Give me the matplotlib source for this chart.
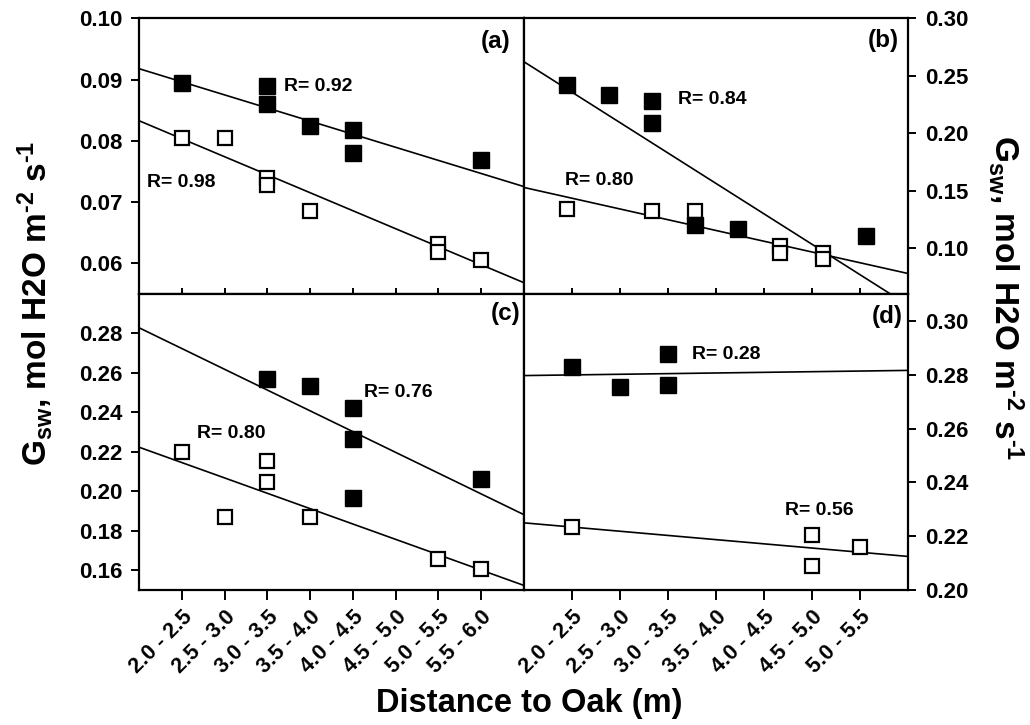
import matplotlib
matplotlib.use('Agg')
import matplotlib.pyplot as plt
import numpy as np

plt.rcParams['font.family'] = ['Liberation Sans', 'DejaVu Sans']
plt.rcParams['font.weight'] = 'bold'
plt.rcParams['mathtext.fontset'] = 'custom'
plt.rcParams['mathtext.rm'] = 'Liberation Sans:bold'
plt.rcParams['mathtext.it'] = 'Liberation Sans:bold'
plt.rcParams['mathtext.bf'] = 'Liberation Sans:bold'

# distance classes (left column has 8, right column 7)
left_labels = ['2.0 - 2.5', '2.5 - 3.0', '3.0 - 3.5', '3.5 - 4.0',
               '4.0 - 4.5', '4.5 - 5.0', '5.0 - 5.5', '5.5 - 6.0']
right_labels = left_labels[:7]

# panel (a)
a_closed_x = [1, 3, 3, 4, 5, 5, 8]
a_closed_y = [0.0894, 0.0889, 0.0861, 0.0825, 0.0818, 0.0780, 0.0769]
a_open_x = [1, 2, 3, 3, 4, 7, 7, 8]
a_open_y = [0.0805, 0.0805, 0.0740, 0.0728, 0.0685, 0.0632, 0.0618, 0.0605]
a_fit_closed = [0.0918, -0.00214]   # intercept, slope
a_fit_open = [0.0833, -0.00294]

# panel (b)
b_closed_x = [0.89, 1.78, 2.67, 2.67, 3.56, 4.45, 7.12]
b_closed_y = [0.2421, 0.2335, 0.2283, 0.2090, 0.1202, 0.1167, 0.1109]
b_open_x = [0.89, 2.67, 3.56, 5.34, 5.34, 6.23, 6.23]
b_open_y = [0.1340, 0.1320, 0.1320, 0.1017, 0.0959, 0.0957, 0.0907]
b_fit_closed = [0.2623, -0.0265]
b_fit_open = [0.1528, -0.00937]

# panel (c)
c_closed_x = [3, 4, 5, 5, 5, 8]
c_closed_y = [0.2571, 0.2532, 0.2424, 0.2266, 0.1965, 0.2063]
c_open_x = [1, 2, 3, 3, 4, 7, 8]
c_open_y = [0.2199, 0.1871, 0.2153, 0.2049, 0.1868, 0.1659, 0.1609]
c_fit_closed = [0.2829, -0.01052]
c_fit_open = [0.2224, -0.00778]

# panel (d)
d_closed_x = [1, 2, 3, 3]
d_closed_y = [0.2828, 0.2753, 0.2876, 0.2761]
d_open_x = [1, 6, 6, 7]
d_open_y = [0.2234, 0.2203, 0.2088, 0.2159]
d_fit_closed = [0.2797, 0.00024]
d_fit_open = [0.2250, -0.00156]

# R values written next to the fits
r_texts = {
    'a': [('R= 0.92', 3.39, 0.0889), ('R= 0.98', 0.18, 0.0732)],
    'b': [('R= 0.84', 3.21, 0.2292), ('R= 0.80', 0.86, 0.1585)],
    'c': [('R= 0.76', 5.25, 0.2499), ('R= 0.80', 1.35, 0.2292)],
    'd': [('R= 0.28', 3.50, 0.2876), ('R= 0.56', 5.44, 0.2296)],
}


def draw_panel(ax, open_x, open_y, closed_x, closed_y, fit_open, fit_closed, xlim):
    xs = np.array(xlim)
    for b0, b1 in (fit_open, fit_closed):
        ax.plot(xs, b0 + b1 * xs, color='black', lw=1.2, zorder=2)
    ax.plot(open_x, open_y, 's', ms=10.5, mfc='white', mec='black', mew=1.6,
            ls='none', zorder=3)
    ax.plot(closed_x, closed_y, 's', ms=11, mfc='black', mec='black',
            ls='none', zorder=4)
    ax.set_xlim(xlim)
    for sp in ax.spines.values():
        sp.set_linewidth(1.6)


fig = plt.figure(figsize=(10.3, 7.25), dpi=100)
x0, xm, x1 = 0.135, 0.5087, 0.8816
y0, ym, y1 = 0.186, 0.5945, 0.9745

ax_a = fig.add_axes([x0, ym, xm - x0, y1 - ym])
ax_b = fig.add_axes([xm, ym, x1 - xm, y1 - ym])
ax_c = fig.add_axes([x0, y0, xm - x0, ym - y0])
ax_d = fig.add_axes([xm, y0, x1 - xm, ym - y0])

draw_panel(ax_a, a_open_x, a_open_y, a_closed_x, a_closed_y, a_fit_open, a_fit_closed, (0, 9))
draw_panel(ax_b, b_open_x, b_open_y, b_closed_x, b_closed_y, b_fit_open, b_fit_closed, (0, 8))
draw_panel(ax_c, c_open_x, c_open_y, c_closed_x, c_closed_y, c_fit_open, c_fit_closed, (0, 9))
draw_panel(ax_d, d_open_x, d_open_y, d_closed_x, d_closed_y, d_fit_open, d_fit_closed, (0, 8))

ax_a.set_ylim(0.055, 0.10)
ax_a.set_yticks([0.06, 0.07, 0.08, 0.09, 0.10])
ax_b.set_ylim(0.06, 0.30)
ax_b.set_yticks([0.10, 0.15, 0.20, 0.25, 0.30])
ax_c.set_ylim(0.15, 0.30)
ax_c.set_yticks([0.16, 0.18, 0.20, 0.22, 0.24, 0.26, 0.28])
ax_d.set_ylim(0.20, 0.31)
ax_d.set_yticks([0.20, 0.22, 0.24, 0.26, 0.28, 0.30])

for ax in (ax_b, ax_d):
    ax.yaxis.tick_right()
for ax in (ax_a, ax_b, ax_c, ax_d):
    ax.yaxis.set_major_formatter(matplotlib.ticker.FormatStrFormatter('%.2f'))
    ax.tick_params(axis='y', direction='out', length=6, width=1.4,
                   labelsize=16, pad=6)

ax_a.set_xticks(range(1, 9))
ax_b.set_xticks(range(1, 8))
for ax in (ax_a, ax_b):
    ax.set_xticklabels([])
    ax.tick_params(axis='x', direction='inout', length=9, width=1.4)

ax_c.set_xticks(range(1, 9))
ax_c.set_xticklabels(left_labels)
ax_d.set_xticks(range(1, 8))
ax_d.set_xticklabels(right_labels)
for ax in (ax_c, ax_d):
    ax.tick_params(axis='x', direction='out', length=7, width=1.4,
                   labelsize=15.5, pad=5)
    for lab in ax.get_xticklabels():
        lab.set_rotation(45)
        lab.set_ha('right')
        lab.set_rotation_mode('anchor')

# panel letters and R annotations
for ax, letter, px, py in ((ax_a, 'a', 0.965, 0.915), (ax_b, 'b', 0.975, 0.92),
                           (ax_c, 'c', 0.99, 0.935), (ax_d, 'd', 0.985, 0.925)):
    ax.text(px, py, '(%s)' % letter, transform=ax.transAxes, ha='right',
            va='center', fontsize=17.5, fontweight='bold')
    for txt, tx, ty in r_texts[letter]:
        ax.text(tx, ty, txt, ha='left', va='center', fontsize=14,
                fontweight='bold')

ylab = 'G$_{sw}$, mol H2O m$^{\u20102}$ s$^{\u20101}$'
fig.text(0.034, 0.582, ylab, rotation=90, ha='center', va='center',
         fontsize=24, fontweight='bold')
fig.text(0.977, 0.589, ylab, rotation=270, ha='center', va='center',
         fontsize=24, fontweight='bold')
fig.text(0.514, 0.029, 'Distance to Oak (m)', ha='center', va='center',
         fontsize=23.5, fontweight='bold')

fig.savefig('out.png', dpi=100)
